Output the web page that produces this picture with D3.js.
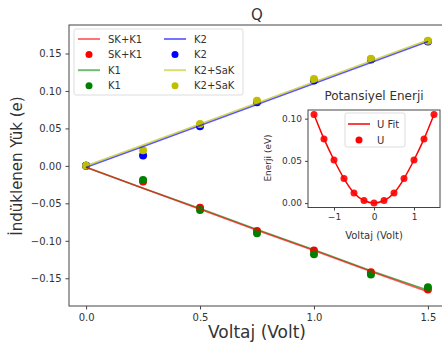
<!DOCTYPE html>
<html>
<head>
<meta charset="utf-8">
<script src="https://cdn.jsdelivr.net/npm/d3@7"></script>
<style>
  body { margin: 0; background: #fff; }
  text { font-family: "DejaVu Sans", sans-serif; fill: #333; }
</style>
</head>
<body>
<script>
// Data
const volts = [0, 0.25, 0.5, 0.75, 1.0, 1.25, 1.5];
const skK1 = [0, -0.021, -0.056, -0.087, -0.113, -0.142, -0.165];
const k1 = [0, -0.019, -0.059, -0.090, -0.118, -0.145, -0.162];
const k2 = [0, 0.014, 0.053, 0.085, 0.114, 0.142, 0.166];
const k2SaK = [0, 0.021, 0.056, 0.087, 0.116, 0.143, 0.167];
// fitted lines at the same voltages
const skK1Fit = [-0.002, -0.030, -0.058, -0.086, -0.113, -0.141, -0.168];
const k1Fit = [-0.002, -0.030, -0.057, -0.085, -0.112, -0.140, -0.166];
const k2Fit = [-0.002, 0.026, 0.054, 0.082, 0.110, 0.138, 0.166];
const k2SaKFit = [0.000, 0.028, 0.056, 0.084, 0.112, 0.140, 0.168];

const xTicks = [0.0, 0.5, 1.0, 1.5];
const yTicks = [-0.15, -0.10, -0.05, 0.00, 0.05, 0.10, 0.15];

// inset: potential energy
const uVolts = [-1.5, -1.25, -1, -0.75, -0.5, -0.25, 0, 0.25, 0.5, 0.75, 1, 1.25, 1.5];
const uVals = [0.105, 0.076, 0.051, 0.029, 0.012, 0.003, 0.000, 0.003, 0.012, 0.029, 0.051, 0.076, 0.105];
const uxTicks = [-1, 0, 1];
const uyTicks = [0.00, 0.05, 0.10];

const width = 442, height = 351;
const spine = '#444';

let svg = d3.select('body').append('svg')
    .attr('width', width)
    .attr('height', height);

// Main axes
let x = d3.scaleLinear().domain([-0.075, 1.575]).range([69, 445]);
let y = d3.scaleLinear().domain([-0.187, 0.188]).range([306, 25]);

let xAxis = svg.append('g')
    .attr('transform', 'translate(0,306)')
    .call(d3.axisBottom(x).tickValues(xTicks).tickFormat(d3.format('.1f')).tickSize(3.5).tickPadding(4));
let yAxis = svg.append('g')
    .attr('transform', 'translate(69,0)')
    .call(d3.axisLeft(y).tickValues(yTicks).tickFormat(d => d3.format('.2f')(d).replace('-', '\u2212')).tickSize(3.5).tickPadding(4));

[xAxis, yAxis].forEach(a => {
    a.select('.domain').remove();
    a.selectAll('line').attr('stroke', spine);
    a.selectAll('text').attr('font-size', 10).attr('fill', '#444')
        .style('font-family', '"DejaVu Sans", sans-serif');
});

// spines (right one falls outside the picture)
svg.append('rect')
    .attr('x', 69).attr('y', 25)
    .attr('width', 445 - 69).attr('height', 306 - 25)
    .attr('fill', 'none').attr('stroke', spine).attr('stroke-width', 1);

const series = [
    {name: 'SK+K1', pts: skK1, fit: skK1Fit, color: '#ff0000'},
    {name: 'K1', pts: k1, fit: k1Fit, color: '#008000'},
    {name: 'K2', pts: k2, fit: k2Fit, color: '#0000ff'},
    {name: 'K2+SaK', pts: k2SaK, fit: k2SaKFit, color: '#bfbf00'}
];

let plot = svg.append('g');

// points first
series.forEach(s => {
    plot.append('g').selectAll('circle')
        .data(s.pts).enter().append('circle')
        .attr('cx', (d, i) => x(volts[i]))
        .attr('cy', d => y(d))
        .attr('r', 4)
        .attr('fill', s.color);
});

let line = d3.line()
    .x((d, i) => x(volts[i]))
    .y(d => y(d));

// line order: green, red, blue, yellow
[series[1], series[0], series[2], series[3]].forEach(s => {
    plot.append('path')
        .attr('d', line(s.fit))
        .attr('fill', 'none')
        .attr('stroke', s.color)
        .attr('stroke-opacity', 0.65)
        .attr('stroke-width', 1.6);
});

// Title and labels
svg.append('text')
    .attr('x', 257).attr('y', 20)
    .attr('text-anchor', 'middle')
    .attr('font-size', 15)
    .text('Q');

svg.append('text')
    .attr('x', 257).attr('y', 338)
    .attr('text-anchor', 'middle')
    .attr('font-size', 17)
    .text('Voltaj (Volt)');

svg.append('text')
    .attr('transform', 'translate(22,' + 166 + ') rotate(-90)')
    .attr('text-anchor', 'middle')
    .attr('font-size', 15)
    .text('İndüklenen Yük (e)');

// Legend
let legend = svg.append('g');
legend.append('rect')
    .attr('x', 74).attr('y', 29)
    .attr('width', 169).attr('height', 66)
    .attr('rx', 2)
    .attr('fill', '#fff').attr('fill-opacity', 0.85)
    .attr('stroke', '#ddd');

const legendItems = [];
series.forEach(s => {
    legendItems.push({name: s.name, color: s.color, kind: 'line'});
    legendItems.push({name: s.name, color: s.color, kind: 'dot'});
});

legendItems.forEach((d, i) => {
    let col = Math.floor(i / 4), row = i % 4;
    let lx = 78 + col * 86, ly = 39 + row * 15.6;
    let g = legend.append('g');
    if (d.kind === 'line') {
        g.append('line')
            .attr('x1', lx).attr('x2', lx + 22)
            .attr('y1', ly).attr('y2', ly)
            .attr('stroke', d.color).attr('stroke-opacity', 0.55)
            .attr('stroke-width', 2);
    } else {
        g.append('circle')
            .attr('cx', lx + 11).attr('cy', ly)
            .attr('r', 3.5).attr('fill', d.color);
    }
    g.append('text')
        .attr('x', lx + 30).attr('y', ly + 3.5)
        .attr('font-size', 10)
        .text(d.name);
});

// Inset axes
let ux = d3.scaleLinear().domain([-1.65, 1.65]).range([308, 440]);
let uy = d3.scaleLinear().domain([-0.00525, 0.11025]).range([207.5, 110]);

let inset = svg.append('g');
inset.append('rect')
    .attr('x', 308).attr('y', 110)
    .attr('width', 132).attr('height', 97.5)
    .attr('fill', '#fff');

let uxAxis = inset.append('g')
    .attr('transform', 'translate(0,207.5)')
    .call(d3.axisBottom(ux).tickValues(uxTicks).tickFormat(d => String(d).replace('-', '\u2212')).tickSize(3).tickPadding(3));
let uyAxis = inset.append('g')
    .attr('transform', 'translate(308,0)')
    .call(d3.axisLeft(uy).tickValues(uyTicks).tickFormat(d3.format('.2f')).tickSize(3).tickPadding(3));

[uxAxis, uyAxis].forEach(a => {
    a.select('.domain').remove();
    a.selectAll('line').attr('stroke', spine);
    a.selectAll('text').attr('font-size', 9).attr('fill', '#444')
        .style('font-family', '"DejaVu Sans", sans-serif');
});

inset.append('rect')
    .attr('x', 308).attr('y', 110)
    .attr('width', 132).attr('height', 97.5)
    .attr('fill', 'none').attr('stroke', spine);

let uLine = d3.line()
    .x((d, i) => ux(uVolts[i]))
    .y(d => uy(d))
    .curve(d3.curveNatural);

inset.append('g').selectAll('circle')
    .data(uVals).enter().append('circle')
    .attr('cx', (d, i) => ux(uVolts[i]))
    .attr('cy', d => uy(d))
    .attr('r', 3.5)
    .attr('fill', '#ff0000')
    .attr('fill-opacity', 0.9);

inset.append('path')
    .attr('d', uLine(uVals))
    .attr('fill', 'none')
    .attr('stroke', '#ff0000')
    .attr('stroke-width', 1.5);

inset.append('text')
    .attr('x', 374).attr('y', 100)
    .attr('text-anchor', 'middle')
    .attr('font-size', 12)
    .text('Potansiyel Enerji');

inset.append('text')
    .attr('x', 374).attr('y', 239)
    .attr('text-anchor', 'middle')
    .attr('font-size', 10)
    .text('Voltaj (Volt)');

inset.append('text')
    .attr('transform', 'translate(271,158) rotate(-90)')
    .attr('text-anchor', 'middle')
    .attr('font-size', 9)
    .text('Enerji (eV)');

// inset legend
let uLegend = inset.append('g');
uLegend.append('rect')
    .attr('x', 345).attr('y', 113)
    .attr('width', 60).attr('height', 34)
    .attr('rx', 2)
    .attr('fill', '#fff').attr('fill-opacity', 0.85)
    .attr('stroke', '#ddd');
uLegend.append('line')
    .attr('x1', 348).attr('x2', 370)
    .attr('y1', 124).attr('y2', 124)
    .attr('stroke', '#ff0000').attr('stroke-width', 1.5);
uLegend.append('text')
    .attr('x', 377).attr('y', 127.5)
    .attr('font-size', 10)
    .text('U Fit');
uLegend.append('circle')
    .attr('cx', 359).attr('cy', 140)
    .attr('r', 3.5).attr('fill', '#ff0000');
uLegend.append('text')
    .attr('x', 377).attr('y', 143.5)
    .attr('font-size', 10)
    .text('U');
</script>
</body>
</html>
